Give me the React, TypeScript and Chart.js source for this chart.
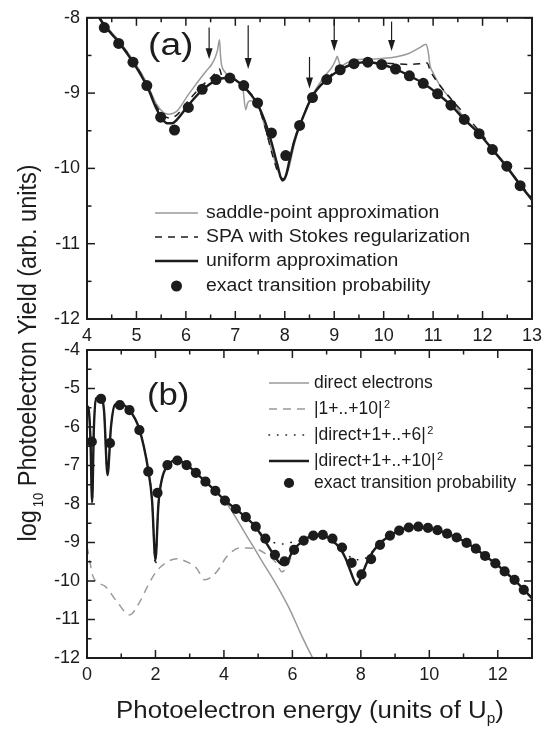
import React, { useEffect, useRef } from "react";
import { Chart, registerables } from "chart.js";

Chart.register(...registerables);

const W = 554;
const H = 729;
const FONT = '"Liberation Sans", Arial, Helvetica, sans-serif';
const INK = "#1c1c1c";
const GREY = "#9a9a9a";

// ---------------- shared: exact transition probability (dots) ----------------
const EXACT_X = [0.14, 0.41, 0.67, 0.96, 1.24, 1.53, 1.79, 2.06, 2.35, 2.64, 2.91, 3.18, 3.46, 3.75, 4.03, 4.35, 4.64, 4.93, 5.21, 5.49, 5.77, 6.05, 6.33, 6.61, 6.89, 7.17, 7.45, 7.73, 8.02, 8.30, 8.56, 8.85, 9.12, 9.40, 9.68, 9.96, 10.24, 10.52, 10.80, 11.09, 11.36, 11.63, 11.93, 12.20, 12.49, 12.76];
const EXACT_Y = [-6.38, -5.27, -6.42, -5.43, -5.56, -6.08, -7.16, -7.71, -6.99, -6.87, -6.99, -7.19, -7.42, -7.66, -7.91, -8.13, -8.34, -8.59, -8.90, -9.32, -9.49, -9.19, -8.95, -8.82, -8.80, -8.90, -9.13, -9.53, -9.83, -9.43, -9.06, -8.82, -8.69, -8.61, -8.59, -8.62, -8.68, -8.77, -8.87, -9.01, -9.16, -9.35, -9.54, -9.75, -9.97, -10.23];

// ---------------- panel (a) ----------------
const A_SPA_X = [4.10, 4.36, 4.65, 4.94, 5.22, 5.40, 5.55, 5.65, 5.80, 6.05, 6.15, 6.30, 6.42, 6.52, 6.59, 6.64, 6.68, 6.70, 6.72, 6.79, 6.89, 7.00, 7.10, 7.15, 7.21, 7.25, 7.30, 7.40, 7.45, 7.60, 7.75, 7.88, 7.98, 8.08, 8.20, 8.31, 8.55, 8.80, 8.95, 9.03, 9.06, 9.09, 9.13, 9.25, 9.40, 9.68, 9.96, 10.24, 10.52, 10.72, 10.86, 10.90, 10.94, 11.00, 11.14, 11.38, 11.63, 11.93, 12.20, 12.49, 12.76, 13.00];
const A_SPA_Y = [-7.85, -8.09, -8.31, -8.57, -8.88, -9.14, -9.26, -9.28, -9.25, -9.02, -8.93, -8.80, -8.70, -8.62, -8.53, -8.43, -8.29, -8.50, -8.62, -8.72, -8.79, -8.82, -8.88, -8.93, -9.22, -9.13, -9.10, -9.12, -9.15, -9.45, -9.80, -10.06, -10.16, -10.00, -9.66, -9.42, -9.04, -8.78, -8.66, -8.56, -8.51, -8.57, -8.64, -8.60, -8.56, -8.55, -8.54, -8.52, -8.47, -8.40, -8.35, -8.45, -8.64, -8.73, -8.90, -9.10, -9.33, -9.53, -9.74, -9.96, -10.21, -10.40];

const A_STOKES_X = [4.10, 4.36, 4.65, 4.94, 5.22, 5.40, 5.55, 5.67, 5.80, 6.05, 6.33, 6.50, 6.62, 6.68, 6.72, 6.80, 6.95, 7.18, 7.45, 7.60, 7.75, 7.88, 7.97, 8.05, 8.17, 8.31, 8.55, 8.85, 9.12, 9.40, 9.68, 9.96, 10.24, 10.52, 10.75, 10.88, 10.94, 11.14, 11.38, 11.68, 12.00, 12.30, 12.60, 13.00];
const A_STOKES_Y = [-7.85, -8.10, -8.32, -8.58, -8.90, -9.17, -9.30, -9.33, -9.30, -9.10, -8.90, -8.80, -8.72, -8.68, -8.76, -8.80, -8.81, -8.92, -9.15, -9.45, -9.82, -10.08, -10.14, -10.04, -9.68, -9.41, -9.05, -8.81, -8.67, -8.60, -8.59, -8.60, -8.61, -8.62, -8.61, -8.60, -8.70, -8.90, -9.09, -9.31, -9.56, -9.82, -10.07, -10.40];

const A_UNIFORM_X = [4.10, 4.36, 4.65, 4.94, 5.22, 5.40, 5.52, 5.62, 5.72, 5.85, 6.05, 6.33, 6.61, 6.80, 6.95, 7.18, 7.45, 7.60, 7.73, 7.85, 7.95, 8.02, 8.10, 8.20, 8.31, 8.55, 8.85, 9.12, 9.40, 9.68, 9.96, 10.24, 10.52, 10.80, 11.09, 11.36, 11.63, 11.93, 12.20, 12.49, 12.76, 13.00];
const A_UNIFORM_Y = [-7.85, -8.11, -8.33, -8.60, -8.92, -9.20, -9.34, -9.40, -9.40, -9.33, -9.16, -8.96, -8.83, -8.80, -8.81, -8.92, -9.15, -9.38, -9.65, -9.95, -10.16, -10.10, -9.88, -9.62, -9.42, -9.05, -8.82, -8.69, -8.61, -8.59, -8.62, -8.68, -8.77, -8.87, -9.01, -9.16, -9.35, -9.54, -9.75, -9.98, -10.22, -10.42];

const ARROW_X = [6.47, 7.26, 8.50, 9.00, 10.16];
const ARROW_FROM = [-8.13, -8.10, -8.52, -8.03, -8.05];
const ARROW_TO = [-8.55, -8.68, -8.94, -8.44, -8.44];

const A_X_TICKS = [4, 5, 6, 7, 8, 9, 10, 11, 12, 13];
const A_X_MINOR = [4.5, 5.5, 6.5, 7.5, 8.5, 9.5, 10.5, 11.5, 12.5];
const A_Y_TICKS = [-8, -9, -10, -11, -12];
const A_Y_MINOR = [-8.5, -9.5, -10.5, -11.5];
const A_LEGEND = ["saddle-point approximation", "SPA with Stokes regularization", "uniform approximation", "exact transition probability"];
const A_TAG = "(a)";

// ---------------- panel (b) ----------------
const B_DIRECT_X = [0.00, 0.05, 0.10, 0.15, 0.20, 0.27, 0.41, 0.50, 0.60, 0.70, 0.82, 0.96, 1.24, 1.53, 1.79, 1.90, 2.00, 2.08, 2.13, 2.35, 2.64, 2.91, 3.18, 3.46, 3.75, 4.03, 4.27, 4.56, 4.86, 5.15, 5.45, 5.70, 5.93, 6.22, 6.45, 6.65];
const B_DIRECT_Y = [-5.45, -5.55, -6.30, -8.00, -6.05, -5.25, -5.22, -5.60, -7.25, -6.00, -5.42, -5.40, -5.56, -6.06, -7.12, -7.90, -9.50, -8.10, -7.64, -7.00, -6.87, -6.98, -7.19, -7.42, -7.66, -7.92, -8.24, -8.67, -9.11, -9.54, -9.97, -10.36, -10.75, -11.32, -11.75, -12.10];

const B_SUM10_X = [0.00, 0.04, 0.18, 0.53, 0.87, 1.24, 1.55, 1.79, 2.02, 2.28, 2.62, 2.91, 3.20, 3.44, 3.79, 4.08, 4.47, 4.86, 5.20, 5.54, 5.69, 5.85, 6.03, 6.29, 6.56, 6.84, 7.12, 7.39, 7.55, 7.70, 7.80, 7.88, 7.96, 8.05, 8.24, 8.52, 8.85, 9.12, 9.40, 9.68, 9.96, 10.24, 10.52, 10.80, 11.09, 11.36, 11.63, 11.93, 12.20, 12.49, 12.76, 13.00];
const B_SUM10_Y = [-9.10, -9.28, -9.89, -10.14, -10.53, -10.88, -10.53, -10.10, -9.76, -9.54, -9.42, -9.50, -9.67, -9.97, -9.76, -9.37, -9.14, -9.15, -9.28, -9.54, -9.76, -9.62, -9.24, -8.97, -8.83, -8.80, -8.92, -9.15, -9.40, -9.75, -9.98, -10.10, -10.00, -9.80, -9.40, -9.05, -8.82, -8.69, -8.61, -8.59, -8.62, -8.68, -8.77, -8.87, -9.01, -9.16, -9.35, -9.54, -9.75, -9.98, -10.22, -10.45];

const B_D6_X = [0.00, 0.05, 0.10, 0.15, 0.20, 0.27, 0.41, 0.50, 0.60, 0.70, 0.82, 0.96, 1.24, 1.53, 1.79, 1.90, 2.00, 2.08, 2.13, 2.35, 2.64, 2.91, 3.18, 3.46, 3.75, 4.03, 4.32, 4.62, 4.89, 5.17, 5.35, 5.55, 5.75, 5.95, 6.15, 6.29, 6.56, 6.84, 7.12, 7.39, 7.60, 7.80, 7.97, 8.15, 8.35, 8.52, 8.85, 9.12, 9.40, 9.68, 9.96, 10.24, 10.52, 10.80, 11.09, 11.36, 11.63, 11.93, 12.20, 12.49, 12.76, 13.00];
const B_D6_Y = [-5.45, -5.55, -6.30, -7.95, -6.05, -5.25, -5.22, -5.60, -7.25, -6.00, -5.42, -5.40, -5.56, -6.06, -7.12, -7.90, -9.60, -8.10, -7.64, -7.00, -6.87, -6.98, -7.19, -7.42, -7.66, -7.91, -8.11, -8.33, -8.56, -8.85, -8.97, -9.02, -9.04, -9.00, -8.97, -8.95, -8.83, -8.80, -8.92, -9.14, -9.32, -9.43, -9.45, -9.40, -9.22, -9.05, -8.82, -8.69, -8.61, -8.59, -8.62, -8.68, -8.77, -8.87, -9.01, -9.16, -9.35, -9.54, -9.75, -9.98, -10.22, -10.45];

const B_D10_X = [0.00, 0.05, 0.10, 0.15, 0.20, 0.27, 0.41, 0.50, 0.60, 0.70, 0.82, 0.96, 1.24, 1.53, 1.79, 1.90, 2.00, 2.08, 2.13, 2.35, 2.64, 2.91, 3.18, 3.46, 3.75, 4.03, 4.32, 4.62, 4.89, 5.17, 5.44, 5.60, 5.72, 5.85, 6.01, 6.29, 6.56, 6.84, 7.12, 7.39, 7.55, 7.70, 7.80, 7.88, 7.96, 8.05, 8.24, 8.52, 8.85, 9.12, 9.40, 9.68, 9.96, 10.24, 10.52, 10.80, 11.09, 11.36, 11.63, 11.93, 12.20, 12.49, 12.76, 13.00];
const B_D10_Y = [-5.45, -5.55, -6.30, -7.95, -6.05, -5.25, -5.22, -5.60, -7.25, -6.00, -5.42, -5.40, -5.56, -6.06, -7.12, -7.90, -9.45, -8.10, -7.64, -7.00, -6.87, -6.98, -7.19, -7.42, -7.66, -7.91, -8.11, -8.33, -8.56, -8.92, -9.30, -9.50, -9.58, -9.50, -9.22, -8.97, -8.83, -8.80, -8.92, -9.15, -9.40, -9.75, -9.98, -10.10, -10.00, -9.80, -9.40, -9.05, -8.82, -8.69, -8.61, -8.59, -8.62, -8.68, -8.77, -8.87, -9.01, -9.16, -9.35, -9.54, -9.75, -9.98, -10.22, -10.45];

const B_X_TICKS = [0, 2, 4, 6, 8, 10, 12];
const B_X_MINOR = [1, 3, 5, 7, 9, 11];
const B_Y_TICKS = [-4, -5, -6, -7, -8, -9, -10, -11, -12];
const B_Y_MINOR = [-4.5, -5.5, -6.5, -7.5, -8.5, -9.5, -10.5, -11.5];
const B_LEGEND = ["direct electrons", "|1+..+10|", "|direct+1+..+6|", "|direct+1+..+10|", "exact transition probability"];
const B_LEGEND_SUP = ["", "2", "2", "2", ""];
const B_TAG = "(b)";

const Y_TITLE = ["log", "10", " Photoelectron Yield (arb. units)"];
const X_TITLE = ["Photoelectron energy (units of U", "p", ")"];

// ---------------- helpers ----------------
const pts = (xs: number[], ys: number[]) => xs.map((x, i) => ({ x, y: ys[i] }));

function drawText(ctx: CanvasRenderingContext2D, s: string, x: number, y: number, size: number, sx: number, baseline: CanvasTextBaseline = "middle") {
  ctx.save();
  ctx.font = `${size}px ${FONT}`;
  ctx.textAlign = "left";
  ctx.textBaseline = baseline;
  ctx.translate(x, y);
  ctx.scale(sx, 1);
  ctx.fillText(s, 0, 0);
  const w = ctx.measureText(s).width * sx;
  ctx.restore();
  return w;
}

function measure(ctx: CanvasRenderingContext2D, s: string, size: number) {
  ctx.save();
  ctx.font = `${size}px ${FONT}`;
  const w = ctx.measureText(s).width;
  ctx.restore();
  return w;
}

function axis(min: number, max: number, ticks: number[], size: number, isX: boolean) {
  return {
    type: "linear",
    min,
    max,
    afterBuildTicks: (s: any) => {
      s.ticks = ticks.map((v) => ({ value: v }));
    },
    afterFit: (s: any) => {
      if (isX) s.height = size;
      else s.width = size;
    },
    grid: { display: false, drawTicks: false, tickLength: 0 },
    border: { display: false },
    ticks: {
      color: INK,
      font: { family: FONT, size: 18 },
      padding: isX ? 6 : 7,
      autoSkip: false,
      maxRotation: 0,
      minRotation: 0,
      callback: (v: any) => String(v),
    },
  };
}

type LegendSpec = {
  texts: string[];
  sups: string[];
  ds: number[];
  rows: number[];
  x0: number;
  x1: number;
  tx: number;
  size: number;
  sx: number;
};

type PanelSpec = {
  xMajor: number[];
  xMinor: number[];
  yMajor: number[];
  yMinor: number[];
  tag: string;
  tagX: number;
  tagY: number;
  tagSx: number;
  legend: LegendSpec;
  arrows?: boolean;
  titles?: boolean;
};

function panelPlugin(spec: PanelSpec) {
  return {
    id: "panel",
    afterDatasetsDraw(chart: any) {
      if (!spec.arrows) return;
      const { ctx } = chart;
      const xs = chart.scales.x;
      const ys = chart.scales.y;
      ctx.save();
      ctx.strokeStyle = INK;
      ctx.fillStyle = INK;
      ctx.lineWidth = 1.2;
      ARROW_X.forEach((xv, i) => {
        const px = xs.getPixelForValue(xv);
        const p0 = ys.getPixelForValue(ARROW_FROM[i]);
        const p1 = ys.getPixelForValue(ARROW_TO[i]);
        ctx.beginPath();
        ctx.moveTo(px, p0);
        ctx.lineTo(px, p1 - 8);
        ctx.stroke();
        ctx.beginPath();
        ctx.moveTo(px - 3.5, p1 - 11);
        ctx.lineTo(px + 3.5, p1 - 11);
        ctx.lineTo(px, p1);
        ctx.closePath();
        ctx.fill();
      });
      ctx.restore();
    },
    afterDraw(chart: any) {
      const { ctx, chartArea: a } = chart;
      const xs = chart.scales.x;
      const ys = chart.scales.y;
      ctx.save();
      ctx.strokeStyle = INK;
      ctx.lineWidth = 1.5;
      const seg = (x1: number, y1: number, x2: number, y2: number) => {
        ctx.beginPath();
        ctx.moveTo(x1, y1);
        ctx.lineTo(x2, y2);
        ctx.stroke();
      };
      const xt = (vals: number[], len: number) =>
        vals.forEach((v) => {
          const p = xs.getPixelForValue(v);
          seg(p, a.bottom, p, a.bottom - len);
          seg(p, a.top, p, a.top + len);
        });
      const yt = (vals: number[], len: number) =>
        vals.forEach((v) => {
          const p = ys.getPixelForValue(v);
          seg(a.left, p, a.left + len, p);
          seg(a.right, p, a.right - len, p);
        });
      xt(spec.xMajor, 8);
      xt(spec.xMinor, 4.5);
      yt(spec.yMajor, 8);
      yt(spec.yMinor, 4.5);
      ctx.lineWidth = 2;
      ctx.strokeRect(a.left, a.top, a.right - a.left, a.bottom - a.top);

      ctx.fillStyle = INK;
      drawText(ctx, spec.tag, spec.tagX, spec.tagY, 31, spec.tagSx, "alphabetic");

      // legend
      const L = spec.legend;
      L.rows.forEach((yy, i) => {
        const ds = chart.data.datasets[L.ds[i]];
        ctx.save();
        if (ds.showLine === false) {
          ctx.fillStyle = ds.pointBackgroundColor;
          ctx.beginPath();
          ctx.arc((L.x0 + L.x1) / 2, yy, ds.pointRadius, 0, Math.PI * 2);
          ctx.fill();
        } else {
          ctx.strokeStyle = ds.borderColor;
          ctx.lineWidth = ds.borderWidth;
          ctx.setLineDash(ds.borderDash || []);
          ctx.lineCap = ds.borderCapStyle || "butt";
          ctx.beginPath();
          ctx.moveTo(L.x0, yy);
          ctx.lineTo(L.x1, yy);
          ctx.stroke();
        }
        ctx.restore();
        ctx.fillStyle = INK;
        const w = drawText(ctx, L.texts[i], L.tx, yy, L.size, L.sx, "middle");
        if (L.sups[i]) drawText(ctx, L.sups[i], L.tx + w + 1.5, yy - 1, 11, 1, "alphabetic");
      });

      if (spec.titles) {
        // x title
        const s = 23.5;
        const sx = 1.1;
        const w1 = measure(ctx, X_TITLE[0], s) * sx;
        const w2 = measure(ctx, X_TITLE[1], 14) * sx;
        const w3 = measure(ctx, X_TITLE[2], s) * sx;
        let x = 310 - (w1 + w2 + w3) / 2;
        drawText(ctx, X_TITLE[0], x, 718, s, sx, "alphabetic");
        x += w1;
        drawText(ctx, X_TITLE[1], x, 723, 14, sx, "alphabetic");
        x += w2;
        drawText(ctx, X_TITLE[2], x, 718, s, sx, "alphabetic");

        // y title (rotated)
        const parts = [
          { t: Y_TITLE[0], size: s, dy: 0, gap: 3 },
          { t: Y_TITLE[1], size: 13, dy: 6.5, gap: 0 },
          { t: Y_TITLE[2], size: s, dy: 0, gap: 0 },
        ];
        const widths = parts.map((p) => measure(ctx, p.t, p.size) + p.gap);
        const total = widths.reduce((m, v) => m + v, 0);
        ctx.save();
        ctx.translate(35.5, 353 + total / 2);
        ctx.rotate(-Math.PI / 2);
        ctx.scale(1, 1.1);
        ctx.fillStyle = INK;
        ctx.textAlign = "left";
        ctx.textBaseline = "alphabetic";
        let px = 0;
        parts.forEach((p, i) => {
          ctx.font = `${p.size}px ${FONT}`;
          ctx.fillText(p.t, px, p.dy);
          px += widths[i];
        });
        ctx.restore();
      }
      ctx.restore();
    },
  };
}

function configA(): any {
  return {
    type: "scatter",
    data: {
      datasets: [
        { label: A_LEGEND[3], data: pts(EXACT_X, EXACT_Y), showLine: false, pointRadius: 5.5, pointBackgroundColor: INK, pointBorderWidth: 0, clip: 0, order: 0 },
        { label: A_LEGEND[2], data: pts(A_UNIFORM_X, A_UNIFORM_Y), showLine: true, pointRadius: 0, borderColor: INK, borderWidth: 2.4, cubicInterpolationMode: "monotone", clip: 0, order: 1 },
        { label: A_LEGEND[1], data: pts(A_STOKES_X, A_STOKES_Y), showLine: true, pointRadius: 0, borderColor: INK, borderWidth: 1.5, borderDash: [7, 6], cubicInterpolationMode: "monotone", clip: 0, order: 2 },
        { label: A_LEGEND[0], data: pts(A_SPA_X, A_SPA_Y), showLine: true, pointRadius: 0, borderColor: GREY, borderWidth: 1.5, cubicInterpolationMode: "monotone", clip: 0, order: 3 },
      ],
    },
    options: {
      responsive: false,
      animation: false,
      devicePixelRatio: 1,
      events: [],
      layout: { padding: { left: 0, top: 13, right: 22, bottom: H - 319 - 26 } },
      plugins: { legend: { display: false }, tooltip: { enabled: false } },
      scales: { x: axis(4, 13, A_X_TICKS, 26, true), y: axis(-12, -8, A_Y_TICKS, 87, false) },
    },
    plugins: [
      panelPlugin({
        xMajor: A_X_TICKS,
        xMinor: A_X_MINOR,
        yMajor: A_Y_TICKS,
        yMinor: A_Y_MINOR,
        tag: A_TAG,
        tagX: 148,
        tagY: 55,
        tagSx: 1.2,
        arrows: true,
        legend: { texts: A_LEGEND, sups: ["", "", "", ""], ds: [3, 2, 1, 0], rows: [213, 237, 261, 286], x0: 155, x1: 198, tx: 206, size: 17.5, sx: 1.11 },
      }),
    ],
  };
}

function configB(): any {
  return {
    type: "scatter",
    data: {
      datasets: [
        { label: B_LEGEND[4], data: pts(EXACT_X, EXACT_Y), showLine: false, pointRadius: 5.1, pointBackgroundColor: INK, pointBorderWidth: 0, clip: 0, order: 0 },
        { label: B_LEGEND[3], data: pts(B_D10_X, B_D10_Y), showLine: true, pointRadius: 0, borderColor: INK, borderWidth: 2.4, cubicInterpolationMode: "monotone", clip: 0, order: 1 },
        { label: B_LEGEND[2], data: pts(B_D6_X, B_D6_Y), showLine: true, pointRadius: 0, borderColor: INK, borderWidth: 1.6, borderDash: [0.5, 8], borderCapStyle: "round", cubicInterpolationMode: "monotone", clip: 0, order: 2 },
        { label: B_LEGEND[1], data: pts(B_SUM10_X, B_SUM10_Y), showLine: true, pointRadius: 0, borderColor: GREY, borderWidth: 1.5, borderDash: [8, 6], cubicInterpolationMode: "monotone", clip: 0, order: 3 },
        { label: B_LEGEND[0], data: pts(B_DIRECT_X, B_DIRECT_Y), showLine: true, pointRadius: 0, borderColor: GREY, borderWidth: 1.5, cubicInterpolationMode: "monotone", clip: 0, order: 4 },
      ],
    },
    options: {
      responsive: false,
      animation: false,
      devicePixelRatio: 1,
      events: [],
      layout: { padding: { left: 0, top: 350, right: 22, bottom: H - 658 - 26 } },
      plugins: { legend: { display: false }, tooltip: { enabled: false } },
      scales: { x: axis(0, 13, B_X_TICKS, 26, true), y: axis(-12, -4, B_Y_TICKS, 87, false) },
    },
    plugins: [
      panelPlugin({
        xMajor: B_X_TICKS,
        xMinor: B_X_MINOR,
        yMajor: B_Y_TICKS,
        yMinor: B_Y_MINOR,
        tag: B_TAG,
        tagX: 147,
        tagY: 405,
        tagSx: 1.12,
        titles: true,
        legend: { texts: B_LEGEND, sups: B_LEGEND_SUP, ds: [4, 3, 2, 1, 0], rows: [383, 409, 435, 461, 483], x0: 269, x1: 309, tx: 314, size: 17.5, sx: 1.0 },
      }),
    ],
  };
}

export default function App() {
  const refA = useRef<HTMLCanvasElement>(null);
  const refB = useRef<HTMLCanvasElement>(null);
  useEffect(() => {
    const a = new Chart(refA.current as HTMLCanvasElement, configA());
    const b = new Chart(refB.current as HTMLCanvasElement, configB());
    return () => {
      a.destroy();
      b.destroy();
    };
  }, []);
  const cs: React.CSSProperties = { position: "absolute", left: 0, top: 0, width: W, height: H };
  return (
    <div style={{ position: "absolute", left: 0, top: 0, width: W, height: H, background: "#fff", overflow: "hidden" }}>
      <canvas ref={refA} width={W} height={H} style={cs} />
      <canvas ref={refB} width={W} height={H} style={cs} />
    </div>
  );
}
